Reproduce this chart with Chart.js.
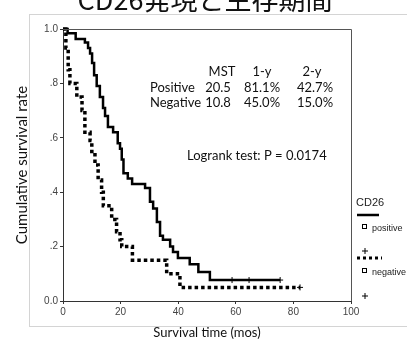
<!DOCTYPE html>
<html>
<head>
<meta charset="utf-8">
<script src="https://cdn.jsdelivr.net/npm/chart.js@4"></script>
<style>
  html, body { margin: 0; padding: 0; background: #fff; }
  #wrap { width: 407px; height: 345px; position: relative; }
</style>
</head>
<body>
<div id="wrap"><canvas id="chart-1"></canvas></div>
<script>
// Kaplan-Meier curves (months, cumulative survival)
const posTimes = [0, 1.6, 4.4, 7.6, 8.7, 9.4, 10.1, 10.8, 11.7, 12.8, 13.9, 14.6, 15.6, 17.4, 19.0, 19.8, 20.4, 21.0, 22.5, 24.0, 28.5, 30.2, 31.3, 32.6, 33.7, 34.7, 37.2, 38.2, 39.9, 44.0, 47.0, 51.0, 75.4];
const posSurv  = [1.0, 0.984, 0.963, 0.95, 0.93, 0.91, 0.875, 0.83, 0.79, 0.75, 0.71, 0.68, 0.64, 0.62, 0.58, 0.56, 0.52, 0.47, 0.45, 0.43, 0.415, 0.365, 0.34, 0.29, 0.24, 0.225, 0.2, 0.18, 0.158, 0.135, 0.107, 0.077, 0.077];
const negTimes = [0, 1.0, 1.8, 2.4, 4.8, 6.6, 7.6, 9.4, 10.0, 11.1, 12.2, 13.4, 14.0, 16.9, 18.6, 19.8, 20.4, 24.1, 36.0, 40.6, 82.3];
const negSurv  = [1.0, 0.93, 0.85, 0.80, 0.75, 0.70, 0.62, 0.59, 0.55, 0.50, 0.445, 0.40, 0.35, 0.30, 0.255, 0.225, 0.20, 0.15, 0.10, 0.05, 0.05];
const posCensorTimes = [58.7, 64.6, 75.4];
const posCensorSurv = [0.077, 0.077, 0.077];
const negCensorTimes = [82.3];
const negCensorSurv = [0.05];

const xTicks = [0, 20, 40, 60, 80, 100];
const yTickLabels = {0: '0.0', 0.2: '.2', 0.4: '.4', 0.6: '.6', 0.8: '.8', 1: '1.0'};

const chartTitle = 'CD26発現と生存期間';
const tableHeader = ['MST', '1-y', '2-y'];
const tableRowNames = ['Positive', 'Negative'];
const tableRows = [['20.5', '81.1%', '42.7%'], ['10.8', '45.0%', '15.0%']];
const logrankText = 'Logrank test: P = 0.0174';
const legendTitle = 'CD26';
const legendNames = ['positive', 'negative'];

const toPoints = (xs, ys) => xs.map((x, i) => ({x: x, y: ys[i]}));

const textFont = '"Lato", "Open Sans", sans-serif';
const smallFont = '"Liberation Sans", Arial, sans-serif';

const extras = {
    id: 'extras',
    beforeDraw(chart) {
        const ctx = chart.ctx;
        ctx.save();
        ctx.strokeStyle = '#d4d4d4';
        ctx.lineWidth = 1;
        ctx.strokeRect(29.5, 14.5, 400, 312);
        ctx.restore();
    },
    afterDraw(chart) {
        const ctx = chart.ctx;
        const a = chart.chartArea;
        ctx.save();
        // frame around plot
        ctx.strokeStyle = '#555';
        ctx.lineWidth = 1;
        ctx.beginPath();
        ctx.moveTo(a.left, a.top + 0.5);
        ctx.lineTo(a.right + 0.5, a.top + 0.5);
        ctx.lineTo(a.right + 0.5, a.bottom);
        ctx.stroke();

        // title, cut at the top
        ctx.fillStyle = '#111';
        ctx.font = '27px "Noto Sans CJK JP", sans-serif';
        ctx.textAlign = 'center';
        ctx.textBaseline = 'alphabetic';
        ctx.fillText(chartTitle, 205, 10);

        // statistics table
        ctx.font = '13px ' + textFont;
        ctx.textBaseline = 'middle';
        const cols = [218, 262, 315];
        const hdrCols = [222, 262, 312];
        tableHeader.forEach((t, i) => ctx.fillText(t, hdrCols[i], 72));
        tableRows.forEach((row, r) => {
            ctx.textAlign = 'left';
            ctx.fillText(tableRowNames[r], 150, 88 + r * 15);
            ctx.textAlign = 'center';
            row.forEach((v, i) => ctx.fillText(v, cols[i], 88 + r * 15));
        });
        ctx.textAlign = 'left';
        ctx.fillText(logrankText, 187, 156);

        // legend at right
        ctx.fillStyle = '#222';
        ctx.font = '11px ' + smallFont;
        ctx.fillText(legendTitle, 356, 203);
        ctx.strokeStyle = '#000';
        ctx.lineWidth = 2.5;
        ctx.beginPath();
        ctx.moveTo(357, 215); ctx.lineTo(379, 215);
        ctx.stroke();
        ctx.lineWidth = 3;
        ctx.setLineDash([3, 3]);
        ctx.beginPath();
        ctx.moveTo(357, 258); ctx.lineTo(382, 258);
        ctx.stroke();
        ctx.setLineDash([]);
        ctx.lineWidth = 1;
        ctx.font = '9px ' + smallFont;
        [[228, 251], [272, 296]].forEach((ys, i) => {
            ctx.strokeRect(362.5, ys[0] - 3.5, 4, 4);
            ctx.fillText(legendNames[i], 372, ys[0] + 1);
            ctx.beginPath();
            ctx.moveTo(362, ys[1]); ctx.lineTo(368, ys[1]);
            ctx.moveTo(365, ys[1] - 3); ctx.lineTo(365, ys[1] + 3);
            ctx.stroke();
        });
        ctx.restore();
    }
};

const data = {
    datasets: [
        {
            label: 'positive',
            data: toPoints(posTimes, posSurv),
            borderColor: '#000',
            borderWidth: 2.5,
            stepped: true,
            pointRadius: 0,
            fill: false,
            clip: 6
        },
        {
            label: 'negative',
            data: toPoints(negTimes, negSurv),
            borderColor: '#000',
            borderWidth: 3.5,
            borderDash: [3.5, 3],
            stepped: true,
            pointRadius: 0,
            fill: false,
            clip: 6
        },
        {
            type: 'scatter',
            label: 'positive censored',
            data: toPoints(posCensorTimes, posCensorSurv),
            pointStyle: 'cross',
            pointRadius: 3,
            borderColor: '#000',
            borderWidth: 1,
            clip: 6
        },
        {
            type: 'scatter',
            label: 'negative censored',
            data: toPoints(negCensorTimes, negCensorSurv),
            pointStyle: 'cross',
            pointRadius: 3,
            borderColor: '#000',
            borderWidth: 1,
            clip: 6
        }
    ]
};

const config = {
    type: 'line',
    data: data,
    plugins: [extras],
    options: {
        responsive: true,
        maintainAspectRatio: false,
        animation: false,
        layout: { padding: { left: 0, right: 56, top: 29, bottom: 0 } },
        plugins: {
            legend: { display: false },
            tooltip: { enabled: false }
        },
        scales: {
            x: {
                type: 'linear',
                min: 0,
                max: 100,
                afterBuildTicks: (s) => { s.ticks = xTicks.map(v => ({value: v})); },
                afterFit: (s) => { s.height = 44; },
                grid: { drawOnChartArea: false, drawTicks: true, tickLength: 3, tickColor: '#333' },
                border: { color: '#333', width: 1 },
                ticks: { color: '#444', font: { family: smallFont, size: 10 }, padding: 2, maxRotation: 0 },
                title: {
                    display: true,
                    text: 'Survival time (mos)',
                    color: '#111',
                    font: { family: textFont, size: 13 },
                    padding: { top: 0, bottom: 4 }
                }
            },
            y: {
                min: 0,
                max: 1,
                afterBuildTicks: (s) => { s.ticks = [0, 0.2, 0.4, 0.6, 0.8, 1].map(v => ({value: v})); },
                afterFit: (s) => { s.width = 63; },
                grid: { drawOnChartArea: false, drawTicks: true, tickLength: 3, tickColor: '#333' },
                border: { color: '#333', width: 1 },
                ticks: {
                    color: '#444',
                    font: { family: smallFont, size: 10 },
                    padding: 2,
                    callback: (v) => yTickLabels[Math.round(v * 10) / 10]
                },
                title: {
                    display: true,
                    text: 'Cumulative survival rate',
                    color: '#111',
                    font: { family: textFont, size: 15 },
                    padding: { top: 13, bottom: 0 }
                }
            }
        }
    }
};

const ctx = document.getElementById('chart-1').getContext('2d');
new Chart(ctx, config);
</script>
</body>
</html>
